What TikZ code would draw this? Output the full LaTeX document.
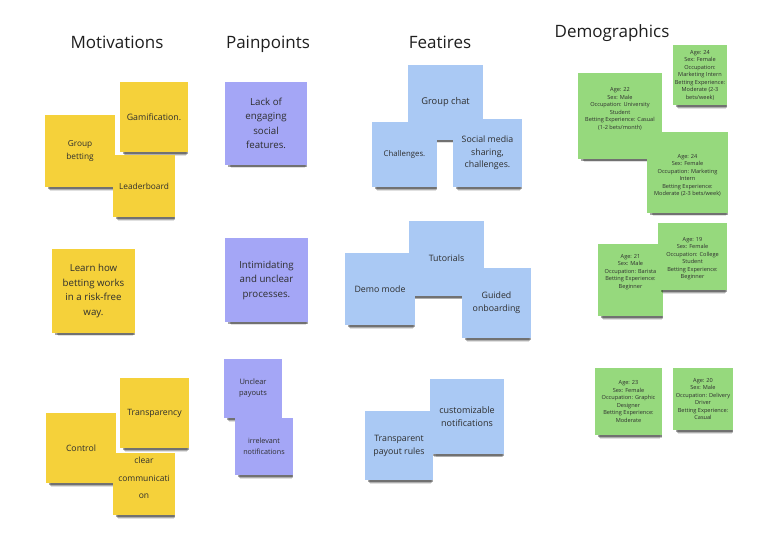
\documentclass[tikz,border=0pt]{standalone}
\usepackage{fontspec}
\setmainfont{Open Sans}
\usetikzlibrary{shadows}
\definecolor{ynote}{HTML}{F5D13A}
\definecolor{pnote}{HTML}{A4A6F6}
\definecolor{bnote}{HTML}{AAC9F4}
\definecolor{gnote}{HTML}{96D97D}
\definecolor{notetext}{HTML}{2E2E2E}
\definecolor{headtext}{HTML}{1F1F1F}
\tikzset{
  sticky/.style={rectangle, inner sep=1pt, align=center, text=notetext,
    drop shadow={shadow xshift=2pt, shadow yshift=-8pt, shadow scale=0.9, opacity=0.12, fill=black},
    drop shadow={shadow xshift=2pt, shadow yshift=-5.5pt, shadow scale=0.93, opacity=0.22, fill=black},
    drop shadow={shadow xshift=1.5pt, shadow yshift=-3.5pt, shadow scale=0.96, opacity=0.35, fill=black}},
  yel/.style={sticky, fill=ynote},
  pur/.style={sticky, fill=pnote},
  blu/.style={sticky, fill=bnote},
  grn/.style={sticky, fill=gnote},
  demotext/.style={align=center, text=notetext, font=\fontsize{5.6}{7.5}\selectfont, inner sep=0pt},
  header/.style={text=headtext, font=\fontsize{17}{20}\selectfont, inner sep=0pt}
}
\begin{document}
\begin{tikzpicture}[x=1pt,y=-1pt]
\useasboundingbox[fill=white] (0,0) rectangle (768,542);
% headers
\node[header] (hmot) at (117,42) {Motivations};
\node[header] (hpain) at (268,44) {Painpoints};
\node[header] (hfeat) at (440,42) {Featires};
\node[header] (hdemo) at (612,33) {Demographics};
% Motivations
\node[yel, minimum width=70pt, minimum height=72pt, font=\fontsize{8.3}{12.5}\selectfont] (gb) at (80,151) {Group\\betting};
\node[yel, minimum width=68pt, minimum height=70pt, font=\fontsize{8.8}{12}\selectfont] (gam) at (154,117) {Gamification.};
\node[yel, minimum width=62pt, minimum height=62pt, font=\fontsize{8.3}{12}\selectfont] (lead) at (144,186) {Leaderboard};
\node[yel, minimum width=83pt, minimum height=84pt, font=\fontsize{9.7}{14.5}\selectfont] (learn) at (93.5,291) {Learn how\\betting works\\in a risk-free\\way.};
\node[yel, minimum width=69pt, minimum height=70pt, font=\fontsize{8.7}{12}\selectfont] (trans) at (154.5,413) {Transparency};
\node[yel, minimum width=70pt, minimum height=70pt, font=\fontsize{8.7}{12}\selectfont] (ctrl) at (81,448) {Control};
\node[yel, minimum width=62pt, minimum height=62pt] (clear) at (144,484) {};
\node[align=center, text=notetext, inner sep=0pt, font=\fontsize{8.5}{17.5}\selectfont, yshift=6pt] (cleart) at (clear.center) {clear\\communicati\\on};
% Painpoints
\node[pur, minimum width=82pt, minimum height=83pt, font=\fontsize{9.7}{14.5}\selectfont] (lack) at (266,123.5) {Lack of\\engaging\\social\\features.};
\node[pur, minimum width=83pt, minimum height=84pt, font=\fontsize{9.7}{14.5}\selectfont] (intim) at (266.5,280) {Intimidating\\and unclear\\processes.};
\node[pur, minimum width=58pt, minimum height=59pt, font=\fontsize{7.5}{11}\selectfont] (unclear) at (253,388.5) {Unclear\\payouts};
\node[pur, minimum width=58pt, minimum height=57pt, font=\fontsize{7.2}{10.5}\selectfont] (irrel) at (264,446.5) {irrelevant\\notifications};
% Features
\node[blu, minimum width=75pt, minimum height=75pt, font=\fontsize{9.3}{12}\selectfont] (chat) at (445.5,102.5) {Group chat};
\node[blu, minimum width=65pt, minimum height=65pt, font=\fontsize{7.8}{11}\selectfont] (chall) at (404.5,154.5) {Challenges.};
\node[blu, minimum width=69pt, minimum height=68pt, font=\fontsize{8.8}{12.5}\selectfont] (social) at (487.5,153) {Social media\\sharing,\\challenges.};
\node[blu, minimum width=75pt, minimum height=75pt, font=\fontsize{8.8}{12}\selectfont] (tut) at (446.5,258.5) {Tutorials};
\node[blu, minimum width=70pt, minimum height=72pt, font=\fontsize{8.8}{12}\selectfont] (demo) at (380,289) {Demo mode};
\node[blu, minimum width=69pt, minimum height=70pt, font=\fontsize{8.8}{13}\selectfont] (guided) at (496.5,303) {Guided\\onboarding};
\node[blu, minimum width=74pt, minimum height=75pt, font=\fontsize{9}{13.5}\selectfont] (custom) at (467,416.5) {customizable\\notifications};
\node[blu, minimum width=68pt, minimum height=69pt, font=\fontsize{8.8}{13}\selectfont] (transp) at (399,445.5) {Transparent\\payout rules};
% Demographics
\node[grn, minimum width=54pt, minimum height=60pt] (g1) at (700,75) {};
\node[demotext] (t1) at (g1.center) {Age: 24\\Sex: Female\\Occupation:\\Marketing Intern\\Betting Experience:\\Moderate (2-3\\bets/week)};
\node[grn, minimum width=84pt, minimum height=86pt] (g2) at (620,116) {};
\node[demotext, yshift=7pt] (t2) at (g2.center) {Age: 22\\Sex: Male\\Occupation: University\\Student\\Betting Experience: Casual\\(1-2 bets/month)};
\node[grn, minimum width=81pt, minimum height=81pt] (g3) at (687.5,172.5) {};
\node[demotext, yshift=-3pt] (t3) at (g3.center) {Age: 24\\Sex: Female\\Occupation: Marketing\\Intern\\Betting Experience:\\Moderate (2-3 bets/week)};
\node[grn, minimum width=65pt, minimum height=72pt] (g4) at (630.5,280) {};
\node[demotext, yshift=8pt] (t4) at (g4.center) {Age: 21\\Sex: Male\\Occupation: Barista\\Betting Experience:\\Beginner};
\node[grn, minimum width=69pt, minimum height=67pt] (g5) at (692.5,256.5) {};
\node[demotext, yshift=-2pt] (t5) at (g5.center) {Age: 19\\Sex: Female\\Occupation: College\\Student\\Betting Experience:\\Beginner};
\node[grn, minimum width=67pt, minimum height=67pt] (g6) at (628.5,401.5) {};
\node[demotext] (t6) at (g6.center) {Age: 23\\Sex: Female\\Occupation: Graphic\\Designer\\Betting Experience:\\Moderate};
\node[grn, minimum width=60pt, minimum height=62pt] (g7) at (703,399) {};
\node[demotext] (t7) at (g7.center) {Age: 20\\Sex: Male\\Occupation: Delivery\\Driver\\Betting Experience:\\Casual};
\end{tikzpicture}
\end{document}
